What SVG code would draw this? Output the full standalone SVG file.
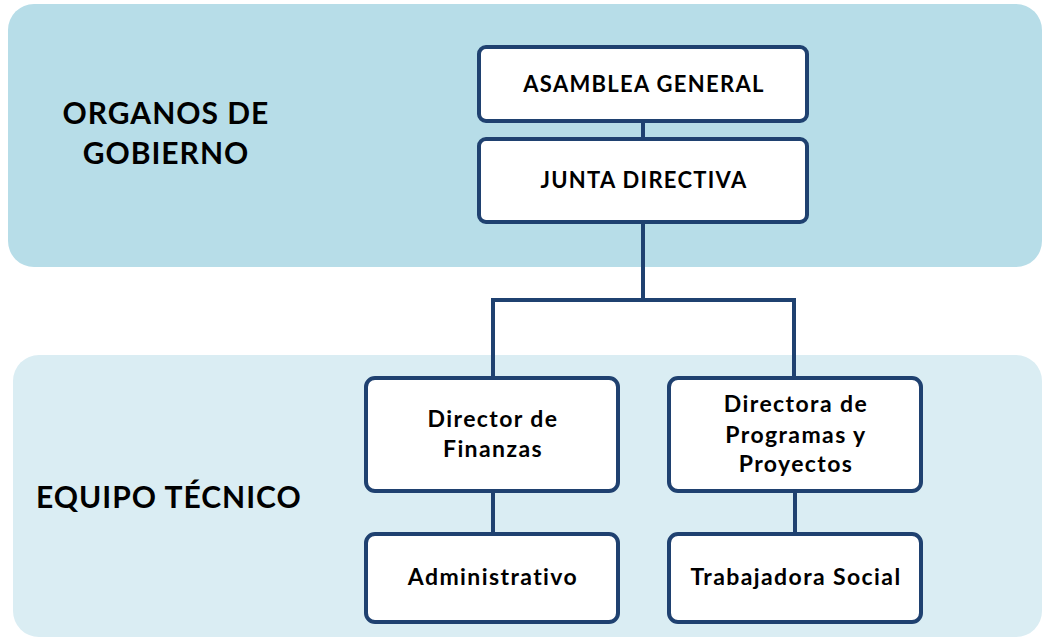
<svg xmlns="http://www.w3.org/2000/svg" width="1042" height="638" viewBox="0 0 1042 638">
<style>
.band1{fill:#B7DDE8}
.band2{fill:#DAEDF3}
.box{fill:#FFFFFF;stroke:#1F4170;stroke-width:4}
.conn{fill:none;stroke:#1F4170;stroke-width:4;stroke-linecap:square}
.t{font-family:Lato,"Open Sans",sans-serif;font-weight:bold;fill:#000;text-anchor:middle}
.n{font-size:23px;letter-spacing:1.4px}
.c{font-size:22px;letter-spacing:1.3px}
.h{font-size:30px;letter-spacing:1px}
</style>
<rect class="band1" x="8" y="4" width="1034" height="263" rx="26"/>
<rect class="band2" x="13" y="355" width="1029" height="282" rx="26"/>
<text class="t h" x="166" y="124">ORGANOS DE</text>
<text class="t h" x="166" y="164">GOBIERNO</text>
<text class="t h" x="36" y="508" style="text-anchor:start">EQUIPO TÉCNICO</text>
<g id="connectors">
<line class="conn" x1="643" y1="121" x2="643" y2="139"/>
<path class="conn" d="M643 222 V300 M493 376 V300 H794 V376"/>
<line class="conn" x1="493" y1="491" x2="493" y2="534"/>
<line class="conn" x1="795" y1="491" x2="795" y2="534"/>
</g>
<g id="asamblea">
<rect class="box" x="479" y="47" width="328" height="74" rx="7"/>
<text class="t c" x="644" y="92">ASAMBLEA GENERAL</text>
</g>
<g id="junta">
<rect class="box" x="479" y="139" width="328" height="83" rx="7"/>
<text class="t c" x="644" y="188">JUNTA DIRECTIVA</text>
</g>
<g id="finanzas">
<rect class="box" x="366" y="378" width="252" height="113" rx="9"/>
<text class="t n" x="493" y="427">Director de</text>
<text class="t n" x="493" y="457">Finanzas</text>
</g>
<g id="programas">
<rect class="box" x="669" y="378" width="252" height="113" rx="9"/>
<text class="t n" x="796" y="412">Directora de</text>
<text class="t n" x="796" y="443">Programas y</text>
<text class="t n" x="796" y="472">Proyectos</text>
</g>
<g id="administrativo">
<rect class="box" x="366" y="534" width="252" height="88" rx="9"/>
<text class="t n" x="493" y="585">Administrativo</text>
</g>
<g id="trabajadora">
<rect class="box" x="669" y="534" width="252" height="88" rx="9"/>
<text class="t n" x="796" y="585">Trabajadora Social</text>
</g>
</svg>
